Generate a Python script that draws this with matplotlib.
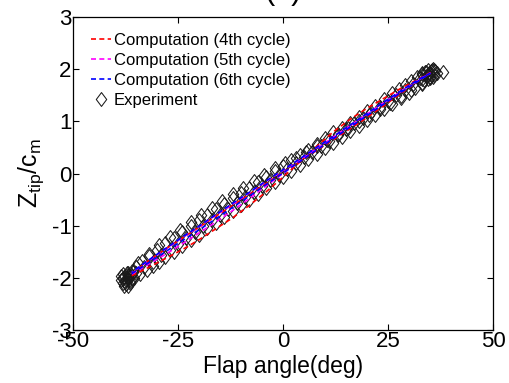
import numpy as np
import matplotlib
matplotlib.use('Agg')
import matplotlib.pyplot as plt
from matplotlib.path import Path

plt.rcParams['font.family'] = ['Liberation Sans', 'DejaVu Sans']
plt.rcParams['mathtext.default'] = 'regular'
plt.rcParams['axes.unicode_minus'] = False

# computed tip deflection loops (flap angle in deg, Z_tip/c_m)
x_cyc = [-36, -32, -28, -24, -20, -16, -12, -8, -4, 0, 4, 8, 12, 16, 20, 24, 28, 32, 35]

z4_up = [-1.96, -1.80, -1.63, -1.46, -1.27, -1.06, -0.85, -0.61, -0.35, -0.07,
         0.22, 0.52, 0.80, 1.04, 1.25, 1.44, 1.63, 1.80, 1.93]
z4_dn = [-1.92, -1.67, -1.45, -1.24, -1.03, -0.82, -0.61, -0.40, -0.19, 0.02,
         0.23, 0.44, 0.65, 0.86, 1.07, 1.30, 1.53, 1.76, 1.93]

z5_up = [-1.93, -1.74, -1.55, -1.35, -1.14, -0.93, -0.71, -0.48, -0.24, 0.00,
         0.24, 0.47, 0.70, 0.92, 1.14, 1.36, 1.57, 1.77, 1.92]
z5_dn = [-1.90, -1.67, -1.45, -1.23, -1.02, -0.80, -0.59, -0.37, -0.15, 0.06,
         0.27, 0.49, 0.71, 0.92, 1.14, 1.36, 1.57, 1.78, 1.92]

z6_up = [-1.92, -1.71, -1.50, -1.29, -1.08, -0.87, -0.65, -0.43, -0.21, 0.01,
         0.23, 0.45, 0.67, 0.89, 1.11, 1.33, 1.55, 1.76, 1.92]
z6_dn = [-1.89, -1.66, -1.44, -1.22, -1.01, -0.79, -0.57, -0.36, -0.14, 0.07,
         0.28, 0.50, 0.71, 0.93, 1.15, 1.37, 1.58, 1.79, 1.92]

# measured tip deflection, several recorded sweeps
x_exp = [35.5, 34, 33, 32, 30.5, 29, 27.5, 26, 24, 22, 20, 18, 16, 14, 12, 10, 8, 6, 4, 2,
         0, -2, -4, -6, -8, -10, -12, -14, -16, -18, -20, -22, -24, -26, -28, -30, -32,
         -33.5, -35, -36, -37,
         -38, -37.5, -36.5, -35.5, -34, -32.5, -31, -29.5, -28, -26, -24, -22, -20, -18,
         -16, -14, -12, -10, -8, -6, -4, -2, 0, 2, 4, 6, 8, 10, 12, 14, 16, 18, 20, 22,
         24, 26, 28, 30, 31.5, 33, 34.5, 36,
         -36.8, -34.5, -32, -29.5, -27, -24.5, -22, -19.5, -17, -14.5, -12, -9.5, -7, -4.5,
         -2, 0.5, 3, 5.5, 8, 10.5, 13, 15.5, 18, 20.5, 23, 25.5, 28, 30.5, 33, 35,
         -37, -35, -33, -31, -29, -27, -25, -23, -21, -19, -17, -15, -13, -11, -9, -7, -5,
         -3, -1, 1, 3, 5, 7, 9, 11, 13, 15, 17, 19, 21, 23, 25, 27, 29, 31, 33, 34.5,
         -38.5, -37.8, -37, -36.2, -38, -36.8, -35.8, -37.3,
         -37.6, -36.9, -38.2, -36.4, -37.1, -35.9, -38.6, -37.9,
         38.2, 35, 34.5, 35.8, 33.5, 34.8, 36.2, 33.2,
         34.2, 35.3, 33.8, 36.6, 35.6, 32.6, 34.9, 36.0]
z_exp = [1.98, 1.95, 1.92, 1.85, 1.78, 1.70, 1.62, 1.55, 1.42, 1.30, 1.20, 1.08, 0.97, 0.88,
         0.79, 0.68, 0.57, 0.46, 0.36, 0.25, 0.15, 0.04, -0.06, -0.16, -0.27, -0.37, -0.47,
         -0.58, -0.68, -0.79, -0.90, -1.01, -1.12, -1.23, -1.34, -1.46, -1.58, -1.68, -1.79,
         -1.86, -1.94,
         -2.10, -2.12, -2.06, -2.00, -1.93, -1.85, -1.77, -1.69, -1.61, -1.50, -1.39, -1.28,
         -1.17, -1.05, -0.94, -0.83, -0.72, -0.61, -0.50, -0.39, -0.28, -0.17, -0.06, 0.05,
         0.16, 0.27, 0.37, 0.48, 0.59, 0.70, 0.81, 0.91, 1.02, 1.12, 1.23, 1.33, 1.44, 1.55,
         1.63, 1.72, 1.81, 1.88,
         -1.90, -1.72, -1.55, -1.38, -1.22, -1.08, -0.93, -0.80, -0.66, -0.53, -0.40, -0.27,
         -0.15, -0.02, 0.10, 0.20, 0.30, 0.42, 0.52, 0.64, 0.76, 0.88, 1.00, 1.12, 1.24, 1.36,
         1.48, 1.60, 1.74, 1.85,
         -2.00, -1.90, -1.80, -1.69, -1.57, -1.46, -1.35, -1.24, -1.12, -1.01, -0.90, -0.79,
         -0.68, -0.57, -0.46, -0.35, -0.24, -0.13, -0.02, 0.09, 0.20, 0.31, 0.41, 0.52, 0.63,
         0.74, 0.85, 0.96, 1.06, 1.17, 1.28, 1.39, 1.50, 1.60, 1.71, 1.82, 1.90,
         -2.05, -1.98, -2.15, -1.95, -1.92, -2.02, -1.88, -2.05,
         -2.08, -1.97, -2.00, -2.09, -1.90, -2.02, -1.97, -2.15,
         1.95, 1.90, 1.98, 1.85, 1.80, 1.92, 1.96, 1.90,
         1.86, 1.97, 1.94, 1.92, 2.00, 1.83, 1.84, 1.99]

x_ticks = [-50, -25, 0, 25, 50]
y_ticks = [-3, -2, -1, 0, 1, 2, 3]

# MATLAB-style diamond, a little taller than wide
diamond = Path([(0, 1), (0.75, 0), (0, -1), (-0.75, 0), (0, 1)],
               [Path.MOVETO, Path.LINETO, Path.LINETO, Path.LINETO, Path.CLOSEPOLY])

fig = plt.figure(figsize=(5.09, 3.83), dpi=100)
ax = fig.add_axes([73 / 509, 1 - 330 / 383, 420 / 509, 313 / 383])


def loop(z_up, z_dn):
    xs = list(x_cyc) + list(x_cyc[::-1])
    zs = list(z_up) + list(z_dn[::-1])
    return xs, zs


dash = (0, (3, 2))
for (zu, zd), col, lab in [((z4_up, z4_dn), 'red', 'Computation (4th cycle)'),
                           ((z5_up, z5_dn), 'magenta', 'Computation (5th cycle)'),
                           ((z6_up, z6_dn), 'blue', 'Computation (6th cycle)')]:
    xs, zs = loop(zu, zd)
    ax.plot(xs, zs, color=col, linestyle=dash, linewidth=1.2, label=lab, zorder=3)

ax.plot(x_exp, z_exp, linestyle='none', marker=diamond, markersize=10,
        markerfacecolor='none', markeredgecolor='#1a1a1a', markeredgewidth=0.75,
        label='Experiment', zorder=2)

ax.set_xlim(-50, 50)
ax.set_ylim(-3, 3)
ax.set_xticks(x_ticks)
ax.set_yticks(y_ticks)
ax.tick_params(direction='in', top=True, right=True, length=4, width=0.8,
               labelsize=16, pad=1)
for s in ax.spines.values():
    s.set_linewidth(0.9)

ax.set_xlabel('Flap angle(deg)', fontsize=16.5, labelpad=2)
ax.set_ylabel('Z$_{tip}$/c$_m$', fontsize=18, labelpad=4)

ax.legend(loc='upper left', frameon=False, fontsize=12, handlelength=1.2,
          handletextpad=0.15, labelspacing=0.3, borderaxespad=0.2,
          bbox_to_anchor=(0.02, 0.98))

# panel title sits mostly above the top edge
fig.text(283 / 509, 1 + 1 / 383, '(b)', fontsize=22, ha='center', va='baseline')

fig.savefig('out.png', dpi=100)
